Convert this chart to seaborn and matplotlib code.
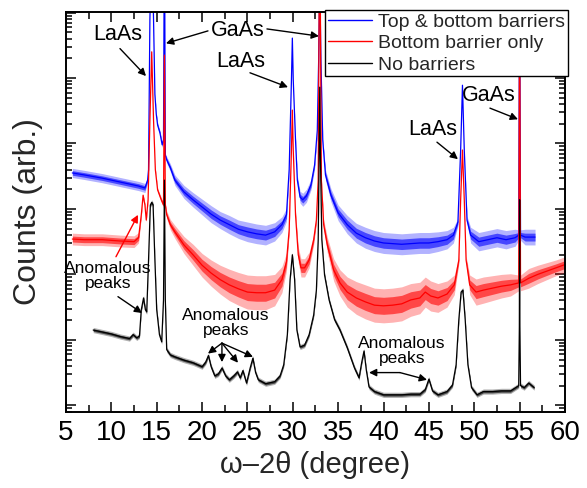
import numpy as np
import pandas as pd
import matplotlib
matplotlib.use("Agg")
import matplotlib.pyplot as plt
import seaborn as sns
from matplotlib.lines import Line2D
from matplotlib.ticker import MultipleLocator, LogLocator, NullFormatter

# ---- scan data: omega-2theta angle (degree) and log10 of counts ----
# each trace: angle, log10(counts), and the half-width of the noise band (decades)
top_angle = [5.7, 7, 9, 11, 13, 13.7, 14.0, 14.1, 14.25, 14.35, 14.55, 14.65, 14.8, 14.95,
             15.1, 15.36, 15.6, 15.75, 15.82, 15.88, 15.95, 16.1, 16.5, 17, 18, 19, 20,
             21, 22, 23, 24, 25, 26, 27, 28, 28.8, 29.3, 29.6, 29.85, 29.95, 30.05, 30.3,
             30.5, 30.8, 31.1, 31.5, 32.0, 32.4, 32.7, 32.85, 32.97, 33.1, 33.3, 33.6,
             34.2, 35, 36, 37, 38, 39, 40, 41, 42, 43, 44, 45, 46, 47, 47.7, 48.2, 48.5,
             48.7, 48.9, 49.2, 49.6, 50.5, 51.5, 52.5, 53.5, 54.5, 54.9, 55.0, 55.1,
             55.6, 56.7]
top_log = [4.55, 4.52, 4.47, 4.41, 4.35, 4.32, 4.44, 4.6, 6.9, 7.5, 7.5, 6.9, 5.75, 5.45,
           5.28, 5.16, 4.98, 5.06, 7.5, 7.5, 4.82, 4.75, 4.63, 4.44, 4.26, 4.14, 4.03,
           3.92, 3.83, 3.76, 3.69, 3.65, 3.62, 3.60, 3.65, 3.76, 3.91, 4.6, 5.97, 6.61,
           5.97, 5.05, 4.44, 4.18, 4.14, 4.2, 4.37, 4.67, 5.2, 6.27, 7.5, 6.27, 5.05,
           4.52, 4.21, 3.94, 3.76, 3.63, 3.56, 3.51, 3.48, 3.47, 3.46, 3.47, 3.48, 3.48,
           3.5, 3.53, 3.6, 3.8, 4.9, 5.89, 4.9, 3.83, 3.6, 3.5, 3.53, 3.56, 3.53, 3.56,
           3.6, 7.5, 3.6, 3.57, 3.57]
top_noise = [0.07, 0.07, 0.07, 0.07, 0.07, 0.07, 0.04, 0.02, 0.0, 0.0, 0.0, 0.0, 0.02, 0.03,
             0.04, 0.04, 0.04, 0.03, 0.0, 0.0, 0.03, 0.05, 0.06, 0.08, 0.1, 0.11, 0.12,
             0.13, 0.13, 0.14, 0.14, 0.15, 0.15, 0.15, 0.14, 0.12, 0.1, 0.04, 0.0, 0.0,
             0.0, 0.04, 0.07, 0.09, 0.1, 0.1, 0.08, 0.06, 0.03, 0.0, 0.0, 0.0, 0.04,
             0.08, 0.1, 0.12, 0.14, 0.15, 0.16, 0.16, 0.16, 0.16, 0.16, 0.16, 0.16, 0.16,
             0.15, 0.14, 0.12, 0.06, 0.0, 0.0, 0.0, 0.06, 0.12, 0.14, 0.14, 0.14, 0.14,
             0.13, 0.08, 0.0, 0.08, 0.12, 0.12]

bottom_angle = [5.7, 7, 9, 11, 12.5, 13.0, 13.3, 13.5, 13.7, 13.85, 14.05, 14.25, 14.45,
                14.65, 14.85, 15.1, 15.5, 15.75, 15.85, 15.95, 16.1, 16.5, 17, 18, 19, 20,
                21, 22, 23, 24, 25, 26, 27, 28, 28.8, 29.3, 29.6, 29.85, 29.95, 30.05,
                30.3, 30.6, 30.9, 31.3, 31.8, 32.3, 32.6, 32.8, 32.92, 33.02, 33.15, 33.4,
                33.8, 34.5, 35.2, 36, 37, 38, 39, 40, 41, 42, 43, 44, 44.6, 45.2, 46, 47,
                47.8, 48.3, 48.5, 48.7, 48.9, 49.1, 49.5, 50.2, 51, 52, 53, 54, 54.9,
                55.0, 55.1, 56, 57, 58, 59, 60]
bottom_log = [3.54, 3.53, 3.53, 3.51, 3.5, 3.56, 3.91, 4.21, 4.06, 3.83, 4.14, 5.36, 6.4,
              5.36, 4.6, 4.29, 4.14, 4.06, 6.35, 4.06, 3.91, 3.76, 3.65, 3.45, 3.3, 3.14,
              3.02, 2.92, 2.84, 2.78, 2.73, 2.72, 2.72, 2.76, 2.92, 3.19, 3.68, 4.9, 5.51,
              4.9, 3.91, 3.3, 3.1, 3.1, 3.22, 3.53, 3.83, 4.44, 7.5, 7.5, 4.44, 3.76,
              3.45, 3.07, 2.87, 2.73, 2.64, 2.58, 2.53, 2.52, 2.53, 2.55, 2.61, 2.64,
              2.73, 2.67, 2.64, 2.7, 2.84, 3.22, 4.14, 4.9, 4.14, 3.22, 2.84, 2.73, 2.76,
              2.79, 2.82, 2.84, 2.87, 7.5, 2.87, 2.94, 3.0, 3.05, 3.1, 3.15]
bottom_noise = [0.09, 0.09, 0.09, 0.09, 0.09, 0.08, 0.04, 0.02, 0.03, 0.03, 0.02, 0.0, 0.0,
                0.0, 0.02, 0.03, 0.04, 0.04, 0.0, 0.04, 0.06, 0.08, 0.1, 0.13, 0.16, 0.18,
                0.2, 0.22, 0.24, 0.25, 0.26, 0.26, 0.26, 0.24, 0.2, 0.14, 0.06, 0.0, 0.0,
                0.0, 0.06, 0.12, 0.14, 0.14, 0.12, 0.08, 0.05, 0.02, 0.0, 0.0, 0.02, 0.08,
                0.12, 0.17, 0.2, 0.23, 0.25, 0.26, 0.26, 0.26, 0.26, 0.26, 0.25, 0.24,
                0.23, 0.23, 0.22, 0.2, 0.15, 0.06, 0.0, 0.0, 0.0, 0.06, 0.15, 0.2, 0.2,
                0.19, 0.18, 0.17, 0.12, 0.0, 0.12, 0.15, 0.14, 0.13, 0.12, 0.12]

none_angle = [8, 9, 10, 11, 12, 12.4, 12.8, 13.1, 13.3, 13.55, 13.75, 13.9, 14.1, 14.3,
              14.45, 14.6, 14.8, 15.0, 15.3, 15.55, 15.75, 15.85, 15.95, 16.1, 16.5, 17,
              18, 19, 20, 20.4, 20.7, 21.0, 21.4, 21.8, 22.2, 22.6, 23.0, 23.5, 23.9,
              24.2, 24.5, 24.9, 25.3, 25.6, 25.9, 26.2, 27, 28, 28.6, 29.0, 29.4, 29.7,
              29.95, 30.2, 30.45, 30.8, 31.3, 31.8, 32.3, 32.6, 32.8, 32.9, 32.97, 33.05,
              33.2, 33.5, 34.0, 34.6, 35.2, 36.0, 36.8, 37.3, 37.6, 37.85, 38.1, 38.4, 39,
              40, 41, 42, 43, 44, 44.6, 45.0, 45.4, 46, 47, 47.6, 48.0, 48.3, 48.55,
              48.75, 49.0, 49.3, 49.7, 50.3, 51, 52, 53, 54, 54.9, 54.97, 55.0, 55.03,
              55.1, 55.5, 56.0, 56.6]
none_log = [2.15, 2.12, 2.09, 2.05, 2.02, 2.08, 2.03, 2.06, 2.46, 2.64, 2.46, 2.43, 3.22,
            4.06, 4.1, 4.06, 3.22, 2.46, 2.08, 1.97, 2.61, 4.44, 2.61, 1.85, 1.77, 1.74,
            1.69, 1.65, 1.59, 1.66, 1.76, 1.59, 1.45, 1.48, 1.57, 1.45, 1.39, 1.45, 1.51,
            1.42, 1.53, 1.34, 1.57, 1.72, 1.5, 1.39, 1.33, 1.36, 1.45, 1.62, 2.08, 2.92,
            3.3, 2.92, 2.15, 1.89, 1.92, 2.08, 2.38, 2.76, 3.53, 4.75, 5.86, 4.75, 3.53,
            2.99, 2.61, 2.31, 2.15, 1.88, 1.57, 1.42, 1.66, 1.83, 1.54, 1.28, 1.21, 1.16,
            1.16, 1.16, 1.17, 1.17, 1.24, 1.40, 1.22, 1.16, 1.21, 1.31, 1.62, 2.31, 2.73,
            2.76, 2.31, 1.62, 1.27, 1.16, 1.21, 1.21, 1.22, 1.22, 1.3, 2.2, 4.14, 2.2,
            1.3, 1.27, 1.34, 1.27]
none_noise = [0.04] * len(none_angle)

samples = ["Top & bottom barriers", "Bottom barrier only", "No barriers"]
colors = ["#0000ff", "#ff0000", "#000000"]

traces = [(top_angle, top_log, top_noise),
          (bottom_angle, bottom_log, bottom_noise),
          (none_angle, none_log, none_noise)]

frames = []
for name, (ang, lg, nz) in zip(samples, traces):
    assert len(ang) == len(lg) == len(nz), name
    lg = np.asarray(lg)
    nz = np.asarray(nz)
    frames.append(pd.DataFrame({"angle": ang, "counts": 10 ** lg,
                                "low": 10 ** (lg - nz), "high": 10 ** (lg + nz),
                                "low_in": 10 ** (lg - 0.5 * nz),
                                "high_in": 10 ** (lg + 0.5 * nz),
                                "sample": name}))
df = pd.concat(frames, ignore_index=True)

sns.set_theme(style="ticks")
plt.rcParams["font.family"] = ["Liberation Sans", "DejaVu Sans"]

fig = plt.figure(figsize=(5.87, 4.88), dpi=100)
ax = fig.add_axes([0.1124, 0.1557, 0.8501, 0.8197])
ax.set_yscale("log")

# scatter of the counting noise: a faint outer band and a denser inner band
for name, col in zip(samples, colors):
    sub = df[df["sample"] == name]
    ax.fill_between(sub["angle"], sub["low"], sub["high"], color=col,
                    alpha=0.3, lw=0, zorder=1)
    ax.fill_between(sub["angle"], sub["low_in"], sub["high_in"], color=col,
                    alpha=0.6, lw=0, zorder=1)

sns.lineplot(data=df, x="angle", y="counts", hue="sample", hue_order=samples,
             palette=colors, estimator=None, sort=False, lw=0.9, legend=False,
             ax=ax, zorder=2)

ax.set_xlim(5, 60)
ax.set_ylim(7.9, 1.02e7)

ax.xaxis.set_major_locator(MultipleLocator(5))
ax.xaxis.set_minor_locator(MultipleLocator(2.5))
ax.yaxis.set_major_locator(LogLocator(base=10, numticks=20))
ax.yaxis.set_minor_locator(LogLocator(base=10, subs=np.arange(2, 10), numticks=20))
ax.yaxis.set_major_formatter(NullFormatter())
ax.yaxis.set_minor_formatter(NullFormatter())
ax.tick_params(which="both", direction="in", top=True, right=True, width=1.1,
               colors="black")
ax.tick_params(which="major", length=7, labelsize=20, pad=6)
ax.tick_params(which="minor", length=4)
ax.tick_params(axis="x", which="minor", length=5)
for sp in ax.spines.values():
    sp.set_linewidth(1.4)
    sp.set_color("black")

ax.set_xlabel("ω–2θ (degree)", fontsize=21, labelpad=3)
ax.set_ylabel("Counts (arb.)", fontsize=23)
ax.yaxis.set_label_coords(-0.046, 0.5)

# peak labels and arrows
label_kw = dict(fontsize=15.5, ha="center", va="center", color="black")
arrow_kw = dict(arrowstyle="-|>", color="black", lw=1.0, mutation_scale=11,
                shrinkA=0, shrinkB=0)

ax.text(10.73, 10 ** 6.66, "LaAs", **label_kw)
ax.annotate("", xy=(13.82, 10 ** 6.03), xytext=(10.95, 10 ** 6.45), arrowprops=arrow_kw)

ax.text(23.96, 10 ** 6.72, "GaAs", **label_kw)
ax.annotate("", xy=(16.02, 10 ** 6.53), xytext=(20.65, 10 ** 6.72), arrowprops=arrow_kw)
ax.annotate("", xy=(32.88, 10 ** 6.64), xytext=(27.15, 10 ** 6.75), arrowprops=arrow_kw)

ax.text(24.29, 10 ** 6.26, "LaAs", **label_kw)
ax.annotate("", xy=(29.47, 10 ** 5.86), xytext=(25.28, 10 ** 6.08), arrowprops=arrow_kw)

ax.text(45.45, 10 ** 5.22, "LaAs", **label_kw)
ax.annotate("", xy=(48.2, 10 ** 4.76), xytext=(45.89, 10 ** 5.02), arrowprops=arrow_kw)

ax.text(51.62, 10 ** 5.73, "GaAs", **label_kw)
ax.annotate("", xy=(54.82, 10 ** 5.37), xytext=(51.73, 10 ** 5.54), arrowprops=arrow_kw)

small_kw = dict(fontsize=12.5, ha="center", va="center", color="black", linespacing=1.0)
ax.text(9.63, 10 ** 2.98, "Anomalous\npeaks", **small_kw)
red_arrow = dict(arrow_kw, color="#ff0000")
ax.annotate("", xy=(12.94, 10 ** 3.91), xytext=(10.51, 10 ** 3.27), arrowprops=red_arrow)
ax.annotate("", xy=(13.38, 10 ** 2.41), xytext=(10.73, 10 ** 2.66), arrowprops=arrow_kw)

ax.text(22.63, 10 ** 2.26, "Anomalous\npeaks", **small_kw)
for hx, hy in [(20.65, 1.79), (22.19, 1.66), (23.96, 1.65), (25.61, 1.74)]:
    ax.annotate("", xy=(hx, 10 ** hy), xytext=(22.19, 10 ** 1.95), arrowprops=arrow_kw)

ax.text(42.03, 10 ** 1.83, "Anomalous\npeaks", **small_kw)
for hx, hy in [(38.4, 1.50), (44.79, 1.39)]:
    ax.annotate("", xy=(hx, 10 ** hy), xytext=(41.81, 10 ** 1.50), arrowprops=arrow_kw)

handles = [Line2D([], [], color=c, lw=1.0) for c in colors]
leg = ax.legend(handles, samples, loc="upper right", bbox_to_anchor=(1.006, 1.005),
                fontsize=14, frameon=True, fancybox=False, framealpha=1,
                edgecolor="black", borderpad=0.15, handlelength=2.3,
                handletextpad=0.3, labelspacing=0.2, borderaxespad=0)
leg.get_frame().set_linewidth(1.0)
leg.set_zorder(5)

fig.savefig("out.png", dpi=100)
